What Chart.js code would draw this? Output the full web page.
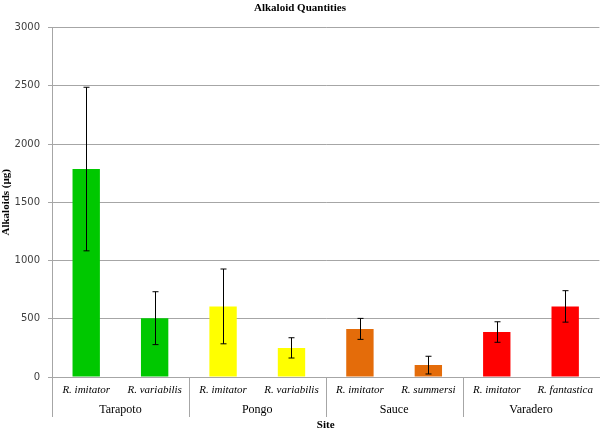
<!DOCTYPE html>
<html>
<head>
<meta charset="utf-8">
<script src="https://cdn.jsdelivr.net/npm/chart.js@4"></script>
<style>
  html, body { margin: 0; padding: 0; background: #ffffff; }
  #wrap { width: 600px; height: 431px; position: relative; }
</style>
</head>
<body>
<div id="wrap"><canvas id="c" width="600" height="431"></canvas></div>
<script>
// ---- data ----
const sites = ['Tarapoto', 'Pongo', 'Sauce', 'Varadero'];
const species = ['R. imitator', 'R. variabilis', 'R. imitator', 'R. variabilis', 'R. imitator', 'R. summersi', 'R. imitator', 'R. fantastica'];
const values = [1785, 505, 606, 250, 413, 102, 386, 606];
const errors = [702, 227, 321, 87, 90, 76, 88, 135];
const barColors = ['#00c800', '#00c800', '#ffff00', '#ffff00', '#e46c0a', '#e46c0a', '#ff0000', '#ff0000'];
const yTicks = [0, 500, 1000, 1500, 2000, 2500, 3000];

const GRID = '#a6a6a6';
const SERIF = '"Liberation Serif", "Times New Roman", serif';

const errorBarPlugin = {
  id: 'errorBars',
  afterDatasetsDraw(chart) {
    const ctx = chart.ctx;
    const y = chart.scales.y;
    const meta = chart.getDatasetMeta(0);
    ctx.save();
    ctx.strokeStyle = '#000000';
    ctx.lineWidth = 1;
    meta.data.forEach((bar, i) => {
      const x = Math.round(bar.x) + 0.5;
      const top = y.getPixelForValue(values[i] + errors[i]);
      const bot = y.getPixelForValue(values[i] - errors[i]);
      ctx.beginPath();
      ctx.moveTo(x, top); ctx.lineTo(x, bot);
      ctx.moveTo(x - 3, top); ctx.lineTo(x + 3, top);
      ctx.moveTo(x - 3, bot); ctx.lineTo(x + 3, bot);
      ctx.stroke();
    });
    ctx.restore();
  }
};

const separatorPlugin = {
  id: 'groupSeparators',
  afterDraw(chart) {
    const ctx = chart.ctx;
    const x2 = chart.scales.x2;
    const area = chart.chartArea;
    const step = x2.width / sites.length;
    ctx.save();
    ctx.strokeStyle = GRID;
    ctx.lineWidth = 1;
    for (let g = 0; g < sites.length; g++) {
      const px = Math.round(x2.getPixelForValue(0) - step / 2 + g * step) + 0.5;
      ctx.beginPath();
      ctx.moveTo(px, area.bottom);
      ctx.lineTo(px, x2.top + 20);
      ctx.stroke();
    }
    ctx.restore();
  }
};

new Chart(document.getElementById('c'), {
  type: 'bar',
  data: {
    labels: species,
    datasets: [{
      data: values,
      backgroundColor: barColors,
      borderWidth: 0,
      barPercentage: 0.4,
      categoryPercentage: 1.0
    }]
  },
  options: {
    responsive: false,
    animation: false,
    devicePixelRatio: 1,
    layout: { padding: { left: 0, right: 0, top: 0, bottom: 0 } },
    plugins: {
      legend: { display: false },
      tooltip: { enabled: false },
      title: {
        display: true,
        text: 'Alkaloid Quantities',
        color: '#000000',
        font: { family: SERIF, size: 11, weight: 'bold', lineHeight: 1.2 },
        padding: { top: 1.5, bottom: 12.8 }
      }
    },
    scales: {
      y: {
        min: 0,
        max: 3000,
        afterBuildTicks(scale) { scale.ticks = yTicks.map(v => ({ value: v })); },
        afterFit(scale) { scale.width = 52; },
        ticks: {
          color: '#404040',
          font: { family: '"DejaVu Sans", Verdana, sans-serif', size: 10 },
          padding: 8,
          callback: (v) => String(v)
        },
        grid: { color: GRID, lineWidth: 1, drawTicks: true, tickLength: 4 },
        border: { display: true, color: GRID, width: 1 },
        title: {
          display: true,
          text: 'Alkaloids (µg)',
          color: '#000000',
          font: { family: SERIF, size: 11, weight: 'bold', lineHeight: 1.2 },
          padding: { top: 0, bottom: 0 }
        }
      },
      x: {
        type: 'category',
        position: 'bottom',
        weight: 0,
        afterFit(scale) { scale.height = 20; },
        ticks: {
          autoSkip: false,
          maxRotation: 0,
          color: '#000000',
          font: { family: SERIF, size: 11, style: 'italic', lineHeight: 1.2 },
          padding: 7
        },
        grid: { display: false, drawTicks: false },
        border: { display: true, color: GRID, width: 1 }
      },
      x2: {
        type: 'category',
        position: 'bottom',
        weight: 1,
        labels: sites,
        offset: true,
        afterFit(scale) { scale.height = 34; },
        ticks: {
          autoSkip: false,
          maxRotation: 0,
          color: '#000000',
          font: { family: SERIF, size: 12, lineHeight: 1.2 },
          padding: 5.6
        },
        grid: { display: false, drawTicks: false },
        border: { display: false },
        title: {
          display: true,
          text: 'Site',
          color: '#000000',
          font: { family: SERIF, size: 11, weight: 'bold', lineHeight: 1 },
          padding: { top: 0, bottom: 0 }
        }
      }
    }
  },
  plugins: [errorBarPlugin, separatorPlugin]
});
</script>
</body>
</html>
